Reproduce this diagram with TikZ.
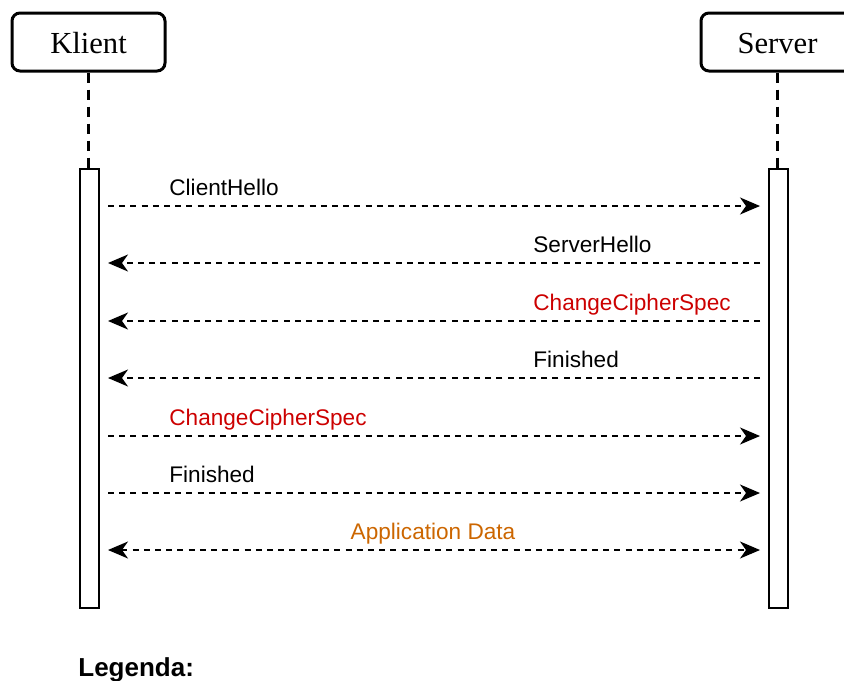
\documentclass[tikz,border=0pt]{standalone}
\usepackage{fontspec}
\setmainfont{Liberation Serif}
\setsansfont{Liberation Sans}
\usetikzlibrary{arrows.meta}

\definecolor{cipherred}{HTML}{CC0000}
\definecolor{appdata}{HTML}{CC6600}

\tikzset{
  party/.style={draw, line width=1.5pt, rounded corners=4pt, minimum width=76.5pt,
    minimum height=29pt, text height=12pt, font=\fontsize{15.3}{18}\selectfont},
  lifeline/.style={line width=1.6pt, dash pattern=on 5pt off 3.5pt},
  actbar/.style={draw, line width=0.9pt, minimum width=9.5pt, minimum height=219.5pt,
    inner sep=0pt, fill=white},
  tip/.tip={Stealth[length=10pt,width=8.5pt,inset=3pt]},
  msg/.style={line width=0.7pt, dash pattern=on 3pt off 2.6pt, -tip},
  msglabel/.style={font=\sffamily\fontsize{11.3}{13}\selectfont, inner sep=0pt}
}

\begin{document}
\begin{tikzpicture}[x=0.5pt,y=-0.5pt]
  \useasboundingbox (0,0) rectangle (844,680);

  % Participants
  \node[party] (klient) at (88.5,42) {Klient};
  \node[party] (server) at (777.5,42) {Server};

  % Activation bars
  \node[actbar, anchor=north] (klientbar) at (89.5,168) {};
  \node[actbar, anchor=north] (serverbar) at (778.5,168) {};

  % Lifelines down to the bars
  \draw[lifeline] (klient.south) -- (klientbar.north -| klient.south);
  \draw[lifeline] (server.south) -- (serverbar.north -| server.south);

  % Messages: y / from / to / label x / colour / text
  \foreach \i/\y/\from/\to/\lx/\col/\txt in {
      1/206/kl/sv/169/black/ClientHello,
      2/263/sv/kl/533/black/ServerHello,
      3/321/sv/kl/533/cipherred/ChangeCipherSpec,
      4/378/sv/kl/533/black/Finished,
      5/436/kl/sv/169/cipherred/ChangeCipherSpec,
      6/493/kl/sv/169/black/Finished} {
    \coordinate (kl\i) at (108,\y);
    \coordinate (sv\i) at (760,\y);
    \draw[msg] (\from\i) -- (\to\i);
    \node[msglabel, text=\col, anchor=base west] (lbl\i) at (\lx,\y-11) {\txt};
  }

  % Application data goes both ways
  \coordinate (kl7) at (108,550);
  \coordinate (sv7) at (760,550);
  \draw[msg, tip-tip] (kl7) -- (sv7);
  \node[msglabel, text=appdata, anchor=base] (lbl7) at (433,539) {Application Data};

  % Legend
  \node[font=\sffamily\bfseries\fontsize{13}{15}\selectfont, inner sep=0pt, anchor=base west]
    (legend) at (78,676) {Legenda:};
\end{tikzpicture}
\end{document}
